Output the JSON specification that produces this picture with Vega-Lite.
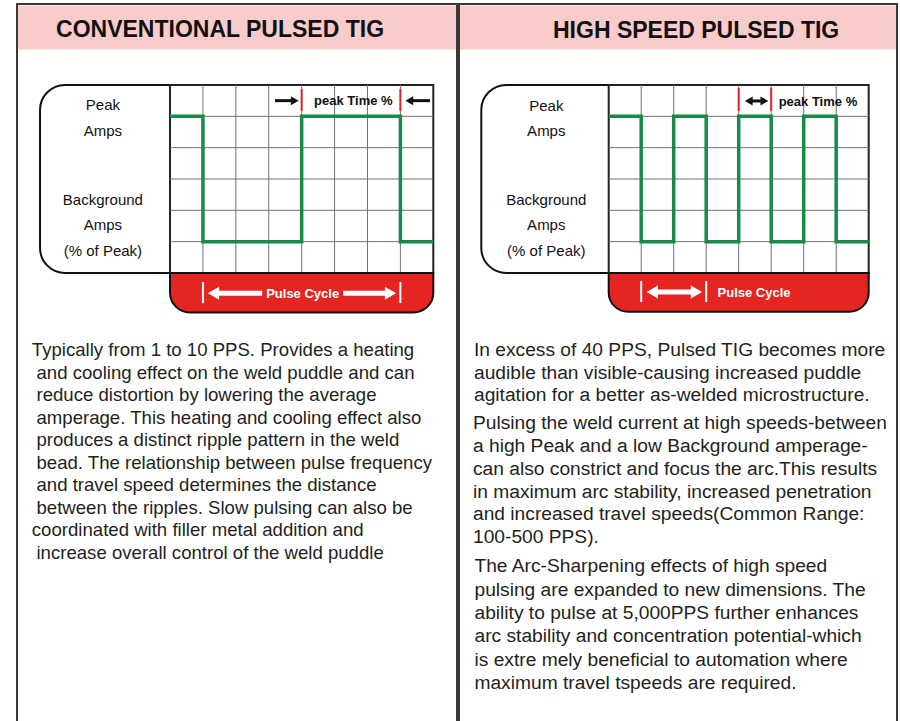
{
  "$schema": "https://vega.github.io/schema/vega-lite/v6.json",
  "padding": {"left": 16, "top": 3, "right": 4, "bottom": 0},
  "background": "white",
  "spacing": 0,
  "config": {"view": {"stroke": "#3a3a3a", "strokeWidth": 2}, "axis": {"disable": true}, "text": {"font": "Liberation Sans", "baseline": "alphabetic"}},
  "hconcat": [
    {
      "width": 440, "height": 719,
      "data": {"values": [{"panel": "Conventional"}]},
      "layer": [
        {"data": {"values": [{"title": "CONVENTIONAL PULSED TIG"}]},
         "mark": {"type": "rect", "fill": "#f9cbcb"},
         "encoding": {
           "x": {"datum": -4.62, "type": "quantitative", "scale": {"domain": [-4.65, 8.72], "nice": false, "zero": false}, "axis": null},
           "x2": {"datum": 8.69},
           "y": {"datum": 8.54, "type": "quantitative", "scale": {"domain": [-14.364, 8.585], "nice": false, "zero": false}, "axis": null},
           "y2": {"datum": 7.13}}},
        {"data": {"values": [{"title": "CONVENTIONAL PULSED TIG"}]},
         "mark": {"type": "text", "fontWeight": "bold", "fontSize": 23, "align": "center", "baseline": "alphabetic", "color": "#111"},
         "encoding": {"x": {"datum": 1.52}, "y": {"datum": 7.54}, "text": {"field": "title"}}},
        {"mark": {"type": "rect", "fill": "white", "stroke": "#111", "strokeWidth": 2, "cornerRadius": 25},
         "encoding": {"x": {"datum": -3.95}, "x2": {"datum": 1}, "y": {"datum": 0}, "y2": {"datum": 6}}},
        {"mark": {"type": "rect", "fill": "white", "stroke": "#222", "strokeWidth": 2},
         "encoding": {"x": {"datum": 0}, "x2": {"datum": 8}, "y": {"datum": 0}, "y2": {"datum": 6}}},
        {"data": {"values": [{"t": 1}, {"t": 2}, {"t": 3}, {"t": 4}, {"t": 5}, {"t": 6}, {"t": 7}]},
         "mark": {"type": "rule", "color": "#707070", "strokeWidth": 1},
         "encoding": {"x": {"field": "t", "type": "quantitative"}, "y": {"datum": 0}, "y2": {"datum": 6}}},
        {"data": {"values": [{"a": 1}, {"a": 2}, {"a": 3}, {"a": 4}, {"a": 5}]},
         "mark": {"type": "rule", "color": "#707070", "strokeWidth": 1},
         "encoding": {"y": {"field": "a", "type": "quantitative"}, "x": {"datum": 0}, "x2": {"datum": 8}}},
        {"mark": {"type": "rect", "fill": "#e42521", "stroke": "#111", "strokeWidth": 2, "cornerRadiusBottomLeft": 20, "cornerRadiusBottomRight": 20},
         "encoding": {"x": {"datum": 0}, "x2": {"datum": 8}, "y": {"datum": -1.26}, "y2": {"datum": 0}}},
        {"data": {"values": [{"t": 0, "amps": 5}, {"t": 1, "amps": 1}, {"t": 4, "amps": 5}, {"t": 7, "amps": 1}, {"t": 8, "amps": 1}]},
         "mark": {"type": "line", "interpolate": "step-after", "color": "#178a45", "strokeWidth": 3.5},
         "encoding": {"x": {"field": "t", "type": "quantitative"}, "y": {"field": "amps", "type": "quantitative"}}},
        {"data": {"values": [{"t": 4}, {"t": 7}]},
         "mark": {"type": "rule", "color": "#e42521", "strokeWidth": 2},
         "encoding": {"x": {"field": "t", "type": "quantitative"}, "y": {"datum": 5.17}, "y2": {"datum": 5.87}}},
        {"mark": {"type": "rule", "color": "#111", "strokeWidth": 3},
         "encoding": {"x": {"datum": 3.19}, "x2": {"datum": 3.79}, "y": {"datum": 5.5}}},
        {"mark": {"type": "rule", "color": "#111", "strokeWidth": 3},
         "encoding": {"x": {"datum": 7.27}, "x2": {"datum": 7.9}, "y": {"datum": 5.5}}},
        {"mark": {"type": "point", "shape": "triangle-right", "filled": true, "color": "#111", "size": 81, "opacity": 1, "strokeWidth": 0},
         "encoding": {"x": {"datum": 3.79}, "y": {"datum": 5.5}}},
        {"mark": {"type": "point", "shape": "triangle-left", "filled": true, "color": "#111", "size": 81, "opacity": 1, "strokeWidth": 0},
         "encoding": {"x": {"datum": 7.27}, "y": {"datum": 5.5}}},
        {"data": {"values": [{"label": "peak Time %"}]},
         "mark": {"type": "text", "fontWeight": "bold", "fontSize": 13, "align": "center", "baseline": "alphabetic", "color": "#111"},
         "encoding": {"x": {"datum": 5.57}, "y": {"datum": 5.36}, "text": {"field": "label"}}},
        {"data": {"values": [{"t": 1}, {"t": 7}]},
         "mark": {"type": "rule", "color": "white", "strokeWidth": 2},
         "encoding": {"x": {"field": "t", "type": "quantitative"}, "y": {"datum": -0.29}, "y2": {"datum": -0.96}}},
        {"mark": {"type": "rule", "color": "white", "strokeWidth": 5},
         "encoding": {"x": {"datum": 1.32}, "x2": {"datum": 2.8}, "y": {"datum": -0.65}}},
        {"mark": {"type": "rule", "color": "white", "strokeWidth": 5},
         "encoding": {"x": {"datum": 5.26}, "x2": {"datum": 6.7}, "y": {"datum": -0.65}}},
        {"mark": {"type": "point", "shape": "triangle-left", "filled": true, "color": "white", "size": 169, "opacity": 1, "strokeWidth": 0},
         "encoding": {"x": {"datum": 1.32}, "y": {"datum": -0.65}}},
        {"mark": {"type": "point", "shape": "triangle-right", "filled": true, "color": "white", "size": 169, "opacity": 1, "strokeWidth": 0},
         "encoding": {"x": {"datum": 6.7}, "y": {"datum": -0.65}}},
        {"data": {"values": [{"label": "Pulse Cycle"}]},
         "mark": {"type": "text", "fontWeight": "bold", "fontSize": 13, "align": "center", "baseline": "alphabetic", "color": "white"},
         "encoding": {"x": {"datum": 4.03}, "y": {"datum": -0.8}, "text": {"field": "label"}}},
        {"data": {"values": [{"lines": ["Peak", "Amps"]}]},
         "mark": {"type": "text", "fontSize": 15, "lineHeight": 25.5, "align": "center", "baseline": "alphabetic", "color": "#111"},
         "encoding": {"x": {"datum": -2.04}, "y": {"datum": 5.2}, "text": {"field": "lines"}}},
        {"data": {"values": [{"lines": ["Background", "Amps", "(% of Peak)"]}]},
         "mark": {"type": "text", "fontSize": 15, "lineHeight": 25.5, "align": "center", "baseline": "alphabetic", "color": "#111"},
         "encoding": {"x": {"datum": -2.04}, "y": {"datum": 2.17}, "text": {"field": "lines"}}},
        {"data": {"values": [{"lines": [
            "Typically from 1 to 10 PPS. Provides a heating",
            "\u200b\u2005and cooling effect on the weld puddle and can",
            "\u200b\u2005reduce distortion by lowering the average",
            "\u200b\u2005amperage. This heating and cooling effect also",
            "\u200b\u2005produces a distinct ripple pattern in the weld",
            "\u200b\u2005bead. The relationship between pulse frequency",
            "\u200b\u2005and travel speed determines the distance",
            "\u200b\u2005between the ripples. Slow pulsing can also be",
            "coordinated with filler metal addition and",
            "\u200b\u2005increase overall control of the weld puddle"]}]},
         "mark": {"type": "text", "fontSize": 18.6, "lineHeight": 22.5, "align": "left", "baseline": "alphabetic", "color": "#231f20"},
         "encoding": {"x": {"datum": -4.2}, "y": {"datum": -2.665}, "text": {"field": "lines"}}}
      ]
    },
    {
      "width": 438, "height": 719,
      "data": {"values": [{"panel": "High speed"}]},
      "layer": [
        {"data": {"values": [{"title": "HIGH SPEED PULSED TIG"}]},
         "mark": {"type": "rect", "fill": "#f9cbcb"},
         "encoding": {
           "x": {"datum": -4.575, "type": "quantitative", "scale": {"domain": [-4.606, 8.871], "nice": false, "zero": false}, "axis": null},
           "x2": {"datum": 8.84},
           "y": {"datum": 8.54, "type": "quantitative", "scale": {"domain": [-14.364, 8.585], "nice": false, "zero": false}, "axis": null},
           "y2": {"datum": 7.13}}},
        {"data": {"values": [{"title": "HIGH SPEED PULSED TIG"}]},
         "mark": {"type": "text", "fontWeight": "bold", "fontSize": 23, "align": "center", "baseline": "alphabetic", "color": "#111"},
         "encoding": {"x": {"datum": 2.69}, "y": {"datum": 7.5}, "text": {"field": "title"}}},
        {"mark": {"type": "rect", "fill": "white", "stroke": "#111", "strokeWidth": 2, "cornerRadius": 25},
         "encoding": {"x": {"datum": -3.92}, "x2": {"datum": 1}, "y": {"datum": 0}, "y2": {"datum": 6}}},
        {"mark": {"type": "rect", "fill": "white", "stroke": "#222", "strokeWidth": 2},
         "encoding": {"x": {"datum": 0}, "x2": {"datum": 8}, "y": {"datum": 0}, "y2": {"datum": 6}}},
        {"data": {"values": [{"t": 1}, {"t": 2}, {"t": 3}, {"t": 4}, {"t": 5}, {"t": 6}, {"t": 7}]},
         "mark": {"type": "rule", "color": "#707070", "strokeWidth": 1},
         "encoding": {"x": {"field": "t", "type": "quantitative"}, "y": {"datum": 0}, "y2": {"datum": 6}}},
        {"data": {"values": [{"a": 1}, {"a": 2}, {"a": 3}, {"a": 4}, {"a": 5}]},
         "mark": {"type": "rule", "color": "#707070", "strokeWidth": 1},
         "encoding": {"y": {"field": "a", "type": "quantitative"}, "x": {"datum": 0}, "x2": {"datum": 8}}},
        {"mark": {"type": "rect", "fill": "#e42521", "stroke": "#111", "strokeWidth": 2, "cornerRadiusBottomLeft": 20, "cornerRadiusBottomRight": 20},
         "encoding": {"x": {"datum": 0}, "x2": {"datum": 8}, "y": {"datum": -1.24}, "y2": {"datum": 0}}},
        {"data": {"values": [{"t": 0, "amps": 5}, {"t": 1, "amps": 1}, {"t": 2, "amps": 5}, {"t": 3, "amps": 1}, {"t": 4, "amps": 5}, {"t": 5, "amps": 1}, {"t": 6, "amps": 5}, {"t": 7, "amps": 1}, {"t": 8, "amps": 1}]},
         "mark": {"type": "line", "interpolate": "step-after", "color": "#178a45", "strokeWidth": 3.5},
         "encoding": {"x": {"field": "t", "type": "quantitative"}, "y": {"field": "amps", "type": "quantitative"}}},
        {"data": {"values": [{"t": 4}, {"t": 5}]},
         "mark": {"type": "rule", "color": "#e42521", "strokeWidth": 2},
         "encoding": {"x": {"field": "t", "type": "quantitative"}, "y": {"datum": 5.17}, "y2": {"datum": 5.9}}},
        {"mark": {"type": "rule", "color": "#111", "strokeWidth": 3},
         "encoding": {"x": {"datum": 4.31}, "x2": {"datum": 4.79}, "y": {"datum": 5.49}}},
        {"mark": {"type": "point", "shape": "triangle-left", "filled": true, "color": "#111", "size": 81, "opacity": 1, "strokeWidth": 0},
         "encoding": {"x": {"datum": 4.31}, "y": {"datum": 5.49}}},
        {"mark": {"type": "point", "shape": "triangle-right", "filled": true, "color": "#111", "size": 81, "opacity": 1, "strokeWidth": 0},
         "encoding": {"x": {"datum": 4.79}, "y": {"datum": 5.49}}},
        {"data": {"values": [{"label": "peak Time %"}]},
         "mark": {"type": "text", "fontWeight": "bold", "fontSize": 13, "align": "left", "baseline": "alphabetic", "color": "#111"},
         "encoding": {"x": {"datum": 5.23}, "y": {"datum": 5.33}, "text": {"field": "label"}}},
        {"data": {"values": [{"t": 1}, {"t": 3}]},
         "mark": {"type": "rule", "color": "white", "strokeWidth": 2},
         "encoding": {"x": {"field": "t", "type": "quantitative"}, "y": {"datum": -0.26}, "y2": {"datum": -0.93}}},
        {"mark": {"type": "rule", "color": "white", "strokeWidth": 5},
         "encoding": {"x": {"datum": 1.34}, "x2": {"datum": 2.7}, "y": {"datum": -0.606}}},
        {"mark": {"type": "point", "shape": "triangle-left", "filled": true, "color": "white", "size": 169, "opacity": 1, "strokeWidth": 0},
         "encoding": {"x": {"datum": 1.34}, "y": {"datum": -0.606}}},
        {"mark": {"type": "point", "shape": "triangle-right", "filled": true, "color": "white", "size": 169, "opacity": 1, "strokeWidth": 0},
         "encoding": {"x": {"datum": 2.7}, "y": {"datum": -0.606}}},
        {"data": {"values": [{"label": "Pulse Cycle"}]},
         "mark": {"type": "text", "fontWeight": "bold", "fontSize": 13, "align": "left", "baseline": "alphabetic", "color": "white"},
         "encoding": {"x": {"datum": 3.35}, "y": {"datum": -0.76}, "text": {"field": "label"}}},
        {"data": {"values": [{"lines": ["Peak", "Amps"]}]},
         "mark": {"type": "text", "fontSize": 15, "lineHeight": 25.5, "align": "center", "baseline": "alphabetic", "color": "#111"},
         "encoding": {"x": {"datum": -1.92}, "y": {"datum": 5.18}, "text": {"field": "lines"}}},
        {"data": {"values": [{"lines": ["Background", "Amps", "(% of Peak)"]}]},
         "mark": {"type": "text", "fontSize": 15, "lineHeight": 25.5, "align": "center", "baseline": "alphabetic", "color": "#111"},
         "encoding": {"x": {"datum": -1.92}, "y": {"datum": 2.17}, "text": {"field": "lines"}}},
        {"data": {"values": [{"lines": [
            "In excess of 40 PPS, Pulsed TIG becomes more",
            "audible than visible-causing increased puddle",
            "agitation for a better as-welded microstructure."]}]},
         "mark": {"type": "text", "fontSize": 19.2, "lineHeight": 22.7, "align": "left", "baseline": "alphabetic", "color": "#231f20"},
         "encoding": {"x": {"datum": -4.145}, "y": {"datum": -2.649}, "text": {"field": "lines"}}},
        {"data": {"values": [{"lines": [
            "Pulsing the weld current at high speeds-between",
            "a high Peak and a low Background amperage-",
            "can also constrict and focus the arc.This results",
            "in maximum arc stability, increased penetration",
            "and increased travel speeds(Common Range:",
            "100-500 PPS)."]}]},
         "mark": {"type": "text", "fontSize": 19.2, "lineHeight": 22.8, "align": "left", "baseline": "alphabetic", "color": "#231f20"},
         "encoding": {"x": {"datum": -4.175}, "y": {"datum": -4.989}, "text": {"field": "lines"}}},
        {"data": {"values": [{"lines": [
            "The Arc-Sharpening effects of high speed",
            "pulsing are expanded to new dimensions. The",
            "ability to pulse at 5,000PPS further enhances",
            "arc stability and concentration potential-which",
            "is extre mely beneficial to automation where",
            "maximum travel tspeeds are required."]}]},
         "mark": {"type": "text", "fontSize": 19.2, "lineHeight": 23.4, "align": "left", "baseline": "alphabetic", "color": "#231f20"},
         "encoding": {"x": {"datum": -4.13}, "y": {"datum": -9.553}, "text": {"field": "lines"}}}
      ]
    }
  ]
}
